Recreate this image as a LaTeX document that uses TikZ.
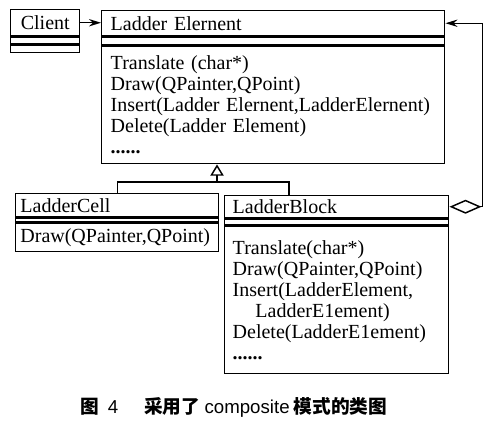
\documentclass[tikz,border=0pt]{standalone}
\usepackage{fontspec}
\setmainfont{Liberation Serif}
\newfontfamily\capsans{Liberation Sans}
\newfontfamily\capcjk{Noto Sans CJK SC}
\usetikzlibrary{arrows.meta, positioning}
\newcommand\umlfont{\fontsize{15pt}{15.75pt}\selectfont}

\begin{document}
\begin{tikzpicture}[
  x=0.75pt, y=-0.75pt,
  classbox/.style={
    draw,
    line width=1.1pt,
    align=left,
    inner xsep=6pt,
    inner ysep=0pt,
    font=\umlfont
  },
  arrow/.style={-{Stealth[length=9pt,width=5.5pt]}, line width=1.1pt},
  node distance=0pt
]
\useasboundingbox (0,0) rectangle (491,430);

% Client
\node (client) [classbox, anchor=north west, align=center, minimum width=51.75pt,
  minimum height=19.5pt] at (10,9) {Client};
\node (clientattr) [classbox, below=of client, minimum width=51.75pt, minimum height=5.25pt] {};
\node (clientops) [classbox, below=of clientattr, minimum width=51.75pt, minimum height=5.25pt] {};

% Ladder Element
\node (elem) [classbox, anchor=north west, inner xsep=6.75pt, text width=243.75pt,
  minimum height=18.75pt] at (101,10) {Ladder Elernent};
\node (elemattr) [classbox, below=of elem, minimum width=257.25pt, minimum height=6pt] {};
\node (elemops) [classbox, below=of elemattr, inner xsep=6.75pt, text width=243.75pt,
  minimum height=87.75pt] {
Translate (char*)\\
Draw(QPainter,QPoint)\\
Insert(Ladder Elernent,LadderElernent)\\
Delete(Ladder Element)\\
\textbf{......}
};

% LadderCell
\node (cell) [classbox, anchor=north west, inner xsep=3.5pt, text width=145.25pt,
  minimum height=17.25pt] at (15,193) {LadderCell};
\node (cellattr) [classbox, below=of cell, minimum width=152.25pt, minimum height=3pt] {};
\node (cellops) [classbox, below=of cellattr, inner xsep=3.5pt, text width=145.25pt,
  minimum height=21pt] {Draw(QPainter,QPoint)};

% LadderBlock
\node (block) [classbox, anchor=north west, text width=156pt,
  minimum height=16.5pt] at (224,195) {LadderBlock};
\node (blockattr) [classbox, below=of block, minimum width=168pt, minimum height=4.5pt] {};
\node (blockops) [classbox, below=of blockattr, text width=156pt,
  minimum height=110.25pt] {
Translate(char*)\\
Draw(QPainter,QPoint)\\
Insert(LadderElement,\\
\hspace*{17pt}LadderE1ement)\\
Delete(LadderE1ement)\\
\textbf{......}
};

% Arrows
\draw[arrow] (client.east) -- (client.east -| elem.west);

\coordinate (gen) at (217,182);
\coordinate (blockjoin) at (289,195);
\draw[line width=1.1pt, -{Triangle[open, length=8.5pt, width=10pt]}] (gen) -- (gen |- elemops.south);
\draw[line width=1.1pt] (cell.north) |- (gen) -| (blockjoin);

\draw[line width=1.1pt, {Diamond[open, length=24pt, width=10.5pt]}-{Stealth[length=9pt,width=5.5pt]}]
  (block.east) -- ++(33,0) |- (elem.east);

% Caption
\node (caption) at (234,407) {\fontsize{14pt}{16pt}\selectfont\capcjk\bfseries
  图\hspace{0.45em}{\capsans\mdseries 4}\hspace{1.4em}采用了 {\capsans\mdseries composite} 模式的类图};

\end{tikzpicture}
\end{document}
